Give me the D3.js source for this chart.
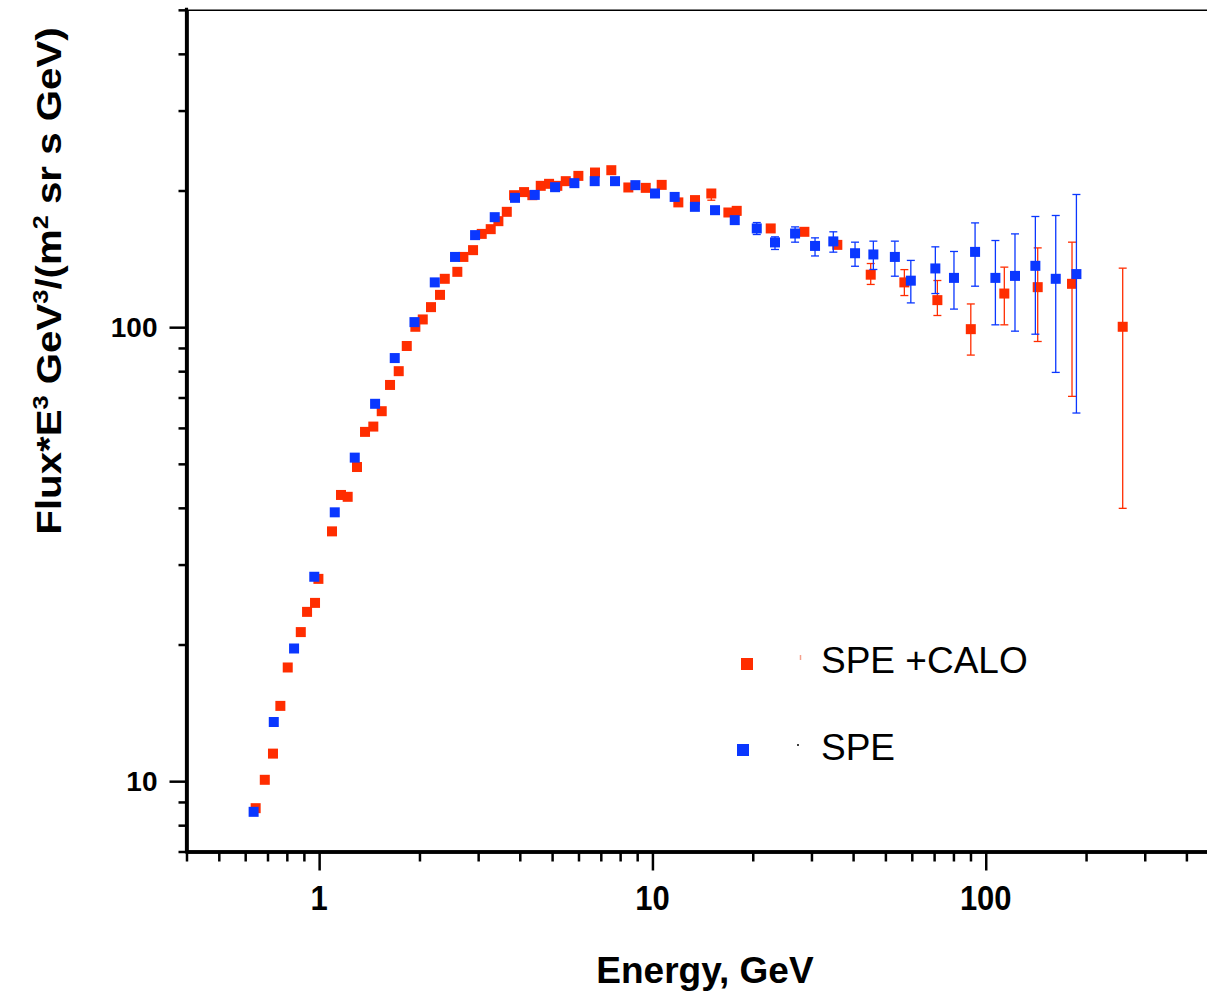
<!DOCTYPE html>
<html>
<head>
<meta charset="utf-8">
<script src="https://cdn.jsdelivr.net/npm/d3@7"></script>
<style>
  html, body { margin: 0; padding: 0; background: #fff; }
  svg { display: block; font-family: "Liberation Sans", Arial, sans-serif; }
</style>
</head>
<body>
<svg id="chart" width="1207" height="994"></svg>
<script>
// ---------------- DATA ----------------
const seriesNames = ["SPE +CALO", "SPE"];

// SPE + CALO (red)
const redE = [0.645,0.687,0.727,0.765,0.805,0.881,0.920,0.972,0.995,1.093,
              1.163,1.218,1.299,1.373,1.454,1.541,1.632,1.733,1.832,1.944,
              2.046,2.166,2.305,2.382,2.598,2.709,2.896,3.075,3.272,3.450,
              3.656,3.845,4.120,4.362,4.623,4.896,5.184,5.495,5.995,6.725,
              7.527,8.467,9.548,10.66,11.96,13.42,15.02,16.90,17.90,22.64,
              28.57,35.87,45.18,57.0,71.6,90.2,113.7,143.2,181.5,257.6];
const redF = [8.72,10.07,11.5,14.65,17.8,21.3,23.6,24.7,27.9,35.5,
              42.7,42.3,49.2,58.8,60.4,65.3,74.6,80.0,90.9,100.2,
              104,110.7,117.8,127.8,132.4,142.8,147.8,160.5,164.4,171.2,
              179.5,195.3,198.4,195.3,204.8,206.9,204.8,209.7,215.4,219.1,
              221.7,203.1,202.7,205.8,188.3,190.5,197.0,178.9,180.4,165.0,
              162.2,151.8,130.5,125.5,114.7,99.0,118.6,122.5,124.6,100.2];
const redLo = [null,null,null,null,null,null,null,null,null,null,
               null,null,null,null,null,null,null,null,null,null,
               null,null,null,null,null,null,null,null,null,null,
               null,null,null,null,null,null,null,null,null,null,
               null,null,null,null,null,null,190.4,null,176.8,null,
               null,null,124.2,117.4,106.1,86.8,101.2,93.0,70.4,39.9];
const redHi = [null,null,null,null,null,null,null,null,null,null,
               null,null,null,null,null,null,null,null,null,null,
               null,null,null,null,null,null,null,null,null,null,
               null,null,null,null,null,null,null,null,null,null,
               null,null,null,null,null,null,199.0,null,184.0,null,
               null,null,138.1,133.9,126.7,112.5,135.6,149.5,153.9,134.9];

// SPE (blue)
const blueE = [0.636,0.731,0.841,0.967,1.114,1.279,1.472,1.686,1.932,2.223,
               2.557,2.937,3.364,3.870,4.436,5.104,5.832,6.711,7.722,8.888,
               10.18,11.66,13.41,15.41,17.66,20.56,23.32,26.79,30.75,34.89,
               40.54,46.01,53.38,59.6,70.6,80.3,92.9,106.9,122.4,140.9,
               162.2,187.1];
const blueF = [8.56,13.5,19.6,28.2,39.1,51.6,67.8,85.5,102.6,125.5,
               142.8,159.5,174.7,192.7,195.6,203.4,207.6,209.7,209.7,205.5,
               197.0,193.6,184.1,181.0,172.1,165.0,153.7,160.8,151.0,154.5,
               145.5,144.6,142.8,126.6,134.7,128.4,146.5,128.4,129.7,136.5,
               127.8,130.9];
const blueLo = [null,null,null,null,null,null,null,null,null,null,
                null,null,null,null,null,null,null,null,null,null,
                null,null,null,null,null,160.0,148.3,153.9,143.5,146.3,
                136.2,134.0,129.5,113.1,118.6,109.6,123.1,101.2,98.0,96.5,
                79.5,64.7];
const blueHi = [null,null,null,null,null,null,null,null,null,null,
                null,null,null,null,null,null,null,null,null,null,
                null,null,null,null,null,170.0,158.1,166.3,157.3,162.2,
                153.9,154.7,154.7,140.3,150.3,146.8,169.7,155.2,160.5,175.3,
                176.2,196.0];

const xMajorTicks = [1, 10, 100];
const xTickLabels = ["1", "10", "100"];
const yMajorTicks = [10, 100];
const yTickLabels = ["10", "100"];
const xTitle = "Energy, GeV";

// ---------------- LAYOUT ----------------
const svg = d3.select("#chart");
const X0 = 186.5, DEC_X = 333.3;
const Y0 = 851.5, DEC_Y = 454;
const x = d3.scaleLog().domain([0.4, 500]).range([X0, X0 + DEC_X * Math.log10(500 / 0.4)]);
const y = d3.scaleLog().domain([7, 500]).range([Y0, Y0 - DEC_Y * Math.log10(500 / 7)]);

const red = "#ff2d00", blue = "#0a37ff";

// minor tick values
const xMinor = [];
[0.1, 1, 10, 100].forEach(d => { for (let k = 1; k <= 9; k++) { const v = d * k; if (v >= 0.4 && v <= 500 && !xMajorTicks.includes(v)) xMinor.push(+v.toPrecision(3)); } });
const yMinor = [];
[1, 10, 100].forEach(d => { for (let k = 1; k <= 9; k++) { const v = d * k; if (v >= 7 && v <= 500 && !yMajorTicks.includes(v)) yMinor.push(v); } });

// top frame line
svg.append("line").attr("x1", X0).attr("x2", 1207).attr("y1", y(500) + 0.5).attr("y2", y(500) + 0.5)
  .attr("stroke", "#000").attr("stroke-width", 1.5);

function styleAxis(g, w) {
  g.selectAll(".tick line").attr("stroke", "#000").attr("stroke-width", 2.5);
  g.select(".domain").attr("stroke", "#000").attr("stroke-width", w);
  g.selectAll(".tick text").remove();
}
// x axis
const gxMinor = svg.append("g").attr("transform", `translate(0,${Y0})`)
  .call(d3.axisBottom(x).tickValues(xMinor).tickSize(10).tickSizeOuter(0).tickFormat(""));
styleAxis(gxMinor, 3.5);
const gxMajor = svg.append("g").attr("transform", `translate(0,${Y0})`)
  .call(d3.axisBottom(x).tickValues(xMajorTicks).tickSize(19).tickSizeOuter(0).tickFormat(""));
styleAxis(gxMajor, 3.5);

// y axis
const gyMinor = svg.append("g").attr("transform", `translate(${X0},0)`)
  .call(d3.axisLeft(y).tickValues(yMinor).tickSize(8).tickSizeOuter(0).tickFormat(""));
styleAxis(gyMinor, 3.2);
const gyMajor = svg.append("g").attr("transform", `translate(${X0},0)`)
  .call(d3.axisLeft(y).tickValues(yMajorTicks).tickSize(17).tickSizeOuter(0).tickFormat(""));
styleAxis(gyMajor, 3.2);
svg.append("line").attr("x1", X0).attr("x2", X0).attr("y1", y(500) - 2).attr("y2", Y0 + 2)
  .attr("stroke", "#000").attr("stroke-width", 3.2);

// tick labels
svg.append("g").selectAll("text").data(xMajorTicks).join("text")
  .attr("transform", d => `translate(${x(d)},910) scale(1,1.15)`)
  .attr("text-anchor", "middle").attr("font-weight", "bold").attr("font-size", 31)
  .attr("fill", "#000").text((d, i) => xTickLabels[i]);
svg.append("g").selectAll("text").data(yMajorTicks).join("text")
  .attr("x", X0 - 29).attr("y", d => y(d) + 10)
  .attr("text-anchor", "end").attr("font-weight", "bold").attr("font-size", 28)
  .attr("fill", "#000").text((d, i) => yTickLabels[i]);

// axis titles
svg.append("text").attr("x", 705).attr("y", 983).attr("text-anchor", "middle")
  .attr("font-weight", "bold").attr("font-size", 37).attr("fill", "#000").text(xTitle);

const yt = svg.append("text")
  .attr("transform", "translate(61,281) rotate(-90) scale(1.15,1)")
  .attr("text-anchor", "middle").attr("font-weight", "bold").attr("font-size", 35).attr("fill", "#000");
const parts = [["Flux*E", false], ["3", true], [" GeV", false], ["3", true], ["/(m", false], ["2", true], [" sr s GeV)", false]];
let prevSup = false;
parts.forEach(([t, sup]) => {
  const ts = yt.append("tspan").text(t);
  if (sup) { ts.attr("dy", -13).attr("font-size", 22); }
  else if (prevSup) { ts.attr("dy", 13); }
  prevSup = sup;
});

// ---------------- MARKS ----------------
const S = 10, CAP = 4;
function drawSeries(E, F, Lo, Hi, color) {
  const g = svg.append("g");
  const idx = d3.range(E.length);
  const eb = idx.filter(i => Lo[i] != null && Hi[i] != null);
  g.selectAll("line.v").data(eb).join("line")
    .attr("x1", i => x(E[i])).attr("x2", i => x(E[i]))
    .attr("y1", i => y(Lo[i])).attr("y2", i => y(Hi[i]))
    .attr("stroke", color).attr("stroke-width", 1.3);
  g.selectAll("line.lo").data(eb).join("line")
    .attr("x1", i => x(E[i]) - CAP).attr("x2", i => x(E[i]) + CAP)
    .attr("y1", i => y(Lo[i])).attr("y2", i => y(Lo[i]))
    .attr("stroke", color).attr("stroke-width", 1.3);
  g.selectAll("line.hi").data(eb).join("line")
    .attr("x1", i => x(E[i]) - CAP).attr("x2", i => x(E[i]) + CAP)
    .attr("y1", i => y(Hi[i])).attr("y2", i => y(Hi[i]))
    .attr("stroke", color).attr("stroke-width", 1.3);
  g.selectAll("rect").data(idx).join("rect")
    .attr("x", i => x(E[i]) - S / 2).attr("y", i => y(F[i]) - S / 2)
    .attr("width", S).attr("height", S).attr("fill", color);
}
drawSeries(redE, redF, redLo, redHi, red);
drawSeries(blueE, blueF, blueLo, blueHi, blue);

// ---------------- LEGEND ----------------
const legend = svg.append("g");
const legendItems = [
  { name: seriesNames[0], color: red, mx: 747, my: 664, ty: 673, dotColor: "#f5a08c", dx: 800.5, dy1: 655, dy2: 660 },
  { name: seriesNames[1], color: blue, mx: 743, my: 750, ty: 760, dotColor: "#000", dx: 798, dy1: 744, dy2: 746 }
];
legendItems.forEach(it => {
  legend.append("rect").attr("x", it.mx - 6).attr("y", it.my - 6).attr("width", 12).attr("height", 12).attr("fill", it.color);
  legend.append("line").attr("x1", it.dx).attr("x2", it.dx).attr("y1", it.dy1).attr("y2", it.dy2)
    .attr("stroke", it.dotColor).attr("stroke-width", 1.5);
  legend.append("text").attr("x", 821).attr("y", it.ty).attr("font-size", 37).attr("fill", "#000").text(it.name);
});
</script>
</body>
</html>
